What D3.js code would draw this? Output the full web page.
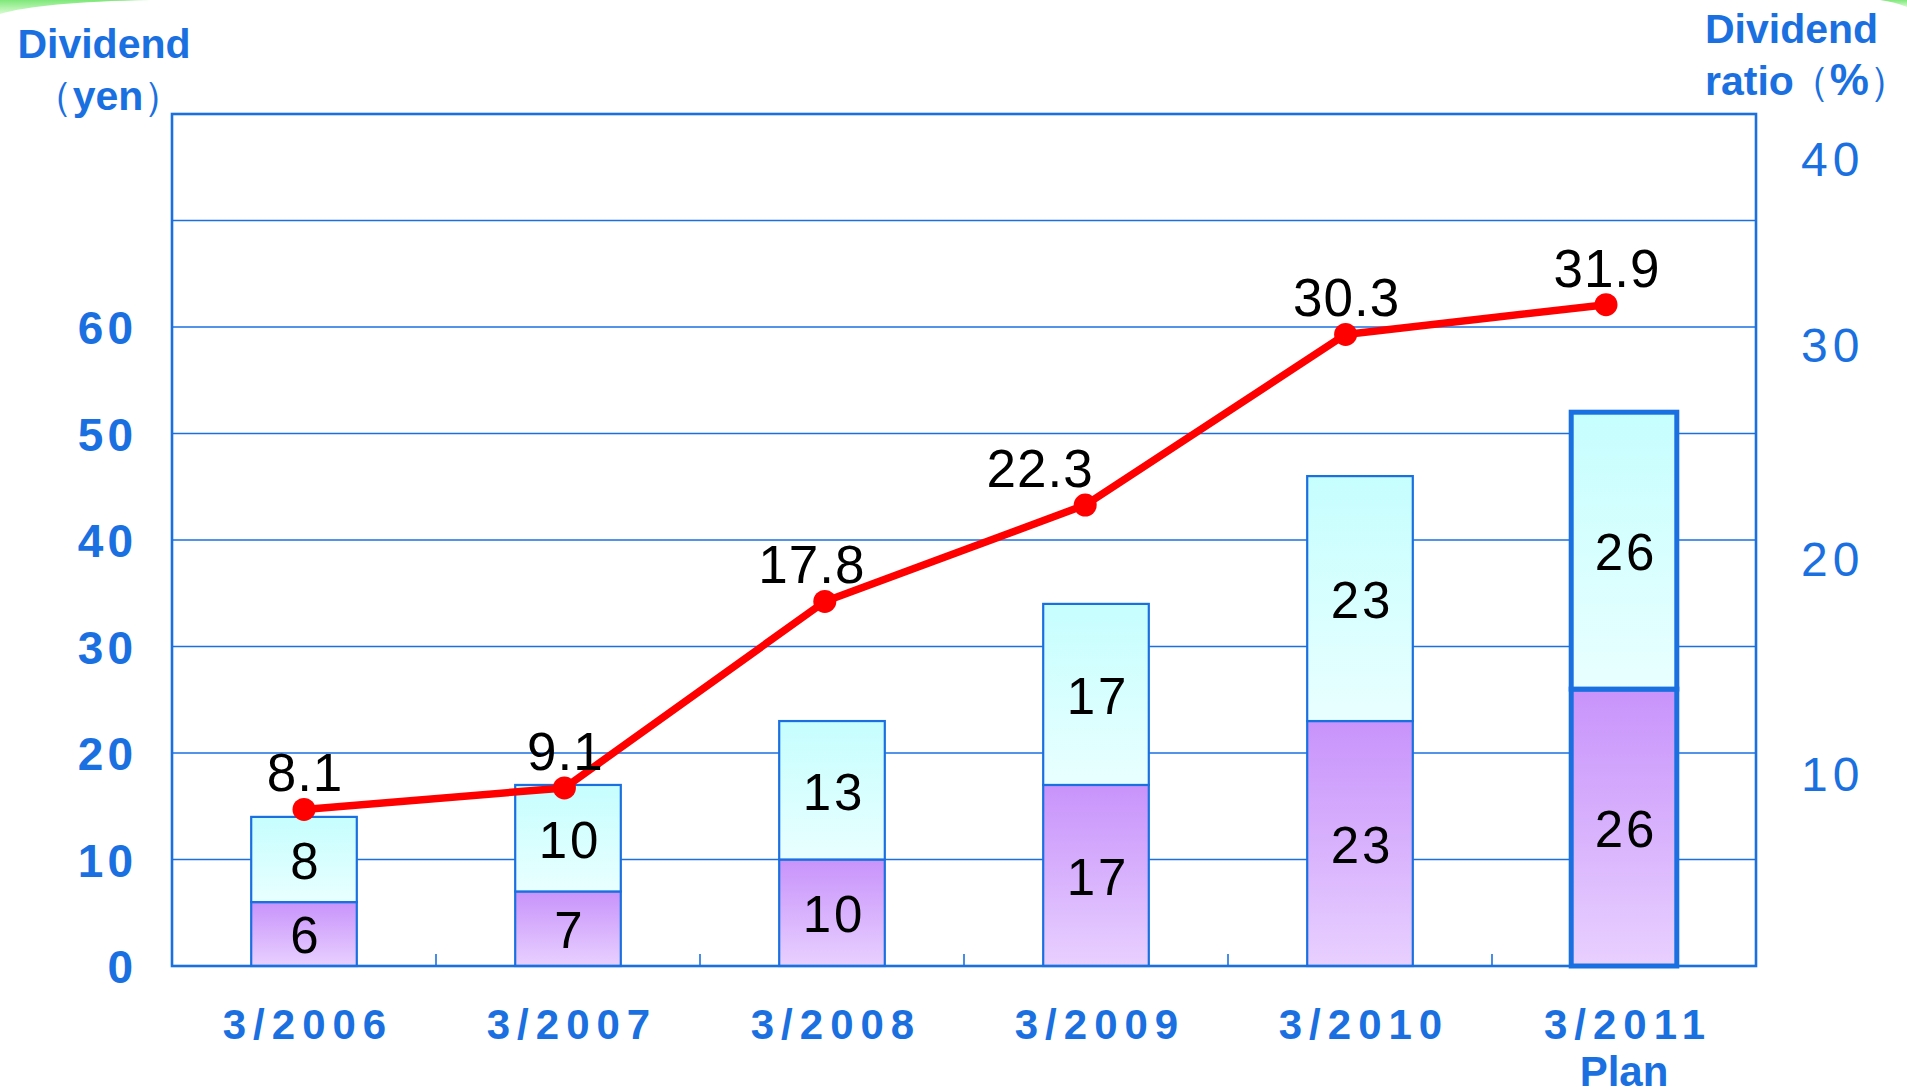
<!DOCTYPE html>
<html>
<head>
<meta charset="utf-8">
<script src="https://cdn.jsdelivr.net/npm/d3@7"></script>
<style>
  body { margin: 0; background: #fff; }
  svg { display: block; }
  text { font-family: "Liberation Sans", Arial, sans-serif; }
</style>
</head>
<body>
<svg id="chart" width="1907" height="1089"></svg>
<script>
// values
var periods = ['3/2006', '3/2007', '3/2008', '3/2009', '3/2010', '3/2011'];
var interim = [6, 7, 10, 17, 23, 26];       // lower (purple) part, yen
var yearEnd = [8, 10, 13, 17, 23, 26];      // upper (cyan) part, yen
var payoutRatio = [8.1, 9.1, 17.8, 22.3, 30.3, 31.9];  // %
var leftTicks = [0, 10, 20, 30, 40, 50, 60];
var gridTicks = [10, 20, 30, 40, 50, 60, 70];
var rightTicks = [10, 20, 30, 40];

var blue = '#1a70e0';
var svg = d3.select('#chart');

// plot frame (note: "top" is taken by window.top)
var plotL = 172, plotR = 1756, plotT = 114, plotB = 966;

var x = d3.scaleBand().domain(periods).range([plotL, plotR]).paddingInner(0.6).paddingOuter(0.3);
var xLine = d3.scalePoint().domain(periods).range([304, 1606]);
var y = d3.scaleLinear().domain([0, 80]).range([plotB, plotT]);
// right axis of the overlaid ratio chart
var y2 = d3.scaleLinear().domain([0, 30, 40]).range([983, 340, 154]);

// gradients
var defs = svg.append('defs');
function grad(id, c1, c2) {
  var g = defs.append('linearGradient').attr('id', id)
    .attr('x1', 0).attr('y1', 0).attr('x2', 0).attr('y2', 1);
  g.append('stop').attr('offset', '0%').attr('stop-color', c1);
  g.append('stop').attr('offset', '100%').attr('stop-color', c2);
}
grad('purple', '#c893fb', '#e8d0ff');
grad('cyan', '#c6fefe', '#e9ffff');
grad('green', '#7fe87a', '#d8fbd0');

// decorative green arcs in the corners
svg.append('path').attr('d', 'M0,14 Q40,2 150,0 L0,0 Z').attr('fill', 'url(#green)');
svg.append('path').attr('d', 'M1880,0 Q1895,2 1907,7 L1907,0 Z').attr('fill', 'url(#green)');

// gridlines
svg.append('g').selectAll('line').data(gridTicks).join('line')
  .attr('x1', plotL).attr('x2', plotR)
  .attr('y1', d => y(d)).attr('y2', d => y(d))
  .attr('stroke', blue).attr('stroke-width', 1.6);

// small ticks between categories on the bottom axis
svg.append('g').selectAll('line').data(periods.slice(1)).join('line')
  .attr('x1', d => x(d) - x.step() * x.paddingInner() / 2)
  .attr('x2', d => x(d) - x.step() * x.paddingInner() / 2)
  .attr('y1', plotB).attr('y2', plotB - 12)
  .attr('stroke', blue).attr('stroke-width', 1.6);

// stacked bars
var stacks = periods.map(function(p, i) {
  return { p: p, a: interim[i], b: yearEnd[i], last: i === periods.length - 1 };
});
var bars = svg.append('g');
bars.selectAll('rect.low').data(stacks).join('rect')
  .attr('class', 'low')
  .attr('x', d => x(d.p)).attr('width', x.bandwidth())
  .attr('y', d => y(d.a)).attr('height', d => y(0) - y(d.a))
  .attr('fill', 'url(#purple)')
  .attr('stroke', blue).attr('stroke-width', d => d.last ? 5 : 2.2);
bars.selectAll('rect.high').data(stacks).join('rect')
  .attr('class', 'high')
  .attr('x', d => x(d.p)).attr('width', x.bandwidth())
  .attr('y', d => y(d.a + d.b)).attr('height', d => y(d.a) - y(d.a + d.b))
  .attr('fill', 'url(#cyan)')
  .attr('stroke', blue).attr('stroke-width', d => d.last ? 5 : 2.2);

// bar segment labels
var segLabels = [];
stacks.forEach(function(d) {
  segLabels.push({ p: d.p, v: d.a, mid: d.a / 2 });
  segLabels.push({ p: d.p, v: d.b, mid: d.a + d.b / 2 });
});
svg.append('g').selectAll('text').data(segLabels).join('text')
  .attr('x', d => x(d.p) + x.bandwidth() / 2 + 2)
  .attr('y', d => y(d.mid))
  .attr('dy', '0.38em')
  .attr('text-anchor', 'middle')
  .attr('font-size', 51)
  .attr('letter-spacing', 3)
  .attr('fill', '#000')
  .text(d => d.v);

// frame
svg.append('rect')
  .attr('x', plotL).attr('y', plotT)
  .attr('width', plotR - plotL).attr('height', plotB - plotT)
  .attr('fill', 'none').attr('stroke', blue).attr('stroke-width', 2.6);

// ratio line
var pts = periods.map((p, i) => [xLine(p), y2(payoutRatio[i])]);
svg.append('path')
  .attr('d', d3.line()(pts))
  .attr('fill', 'none').attr('stroke', '#ff0000').attr('stroke-width', 7.5)
  .attr('stroke-linejoin', 'round');
svg.append('g').selectAll('circle').data(pts).join('circle')
  .attr('cx', d => d[0]).attr('cy', d => d[1]).attr('r', 11.5)
  .attr('fill', '#ff0000');

// labels nudged sideways where the line would cross them
var labelNudge = { '3/2008': -14, '3/2009': -46 };
svg.append('g').selectAll('text').data(periods).join('text')
  .attr('x', (p) => xLine(p) + (labelNudge[p] || 0) + 1)
  .attr('y', (p, i) => y2(payoutRatio[i]) - 18)
  .attr('text-anchor', 'middle')
  .attr('font-size', 53)
  .attr('letter-spacing', 1)
  .attr('fill', '#000')
  .text((p, i) => payoutRatio[i].toFixed(1));

// left axis labels
svg.append('g').selectAll('text').data(leftTicks).join('text')
  .attr('x', 137).attr('y', d => y(d)).attr('dy', '0.37em')
  .attr('text-anchor', 'end')
  .attr('font-size', 46).attr('font-weight', 'bold')
  .attr('letter-spacing', 4)
  .attr('fill', blue)
  .text(d => d);

// right axis labels
svg.append('g').selectAll('text').data(rightTicks).join('text')
  .attr('x', 1801).attr('y', d => y2(d)).attr('dy', '0.46em')
  .attr('text-anchor', 'start')
  .attr('font-size', 48)
  .attr('letter-spacing', 5)
  .attr('fill', blue)
  .text(d => d);

// category labels
svg.append('g').selectAll('text').data(periods).join('text')
  .attr('x', d => x(d) + x.bandwidth() / 2 + 4)
  .attr('y', 1039)
  .attr('text-anchor', 'middle')
  .attr('font-size', 42).attr('font-weight', 'bold')
  .attr('letter-spacing', 7)
  .attr('fill', blue)
  .text(d => d);
svg.append('text')
  .attr('x', x(periods[5]) + x.bandwidth() / 2)
  .attr('y', 1086)
  .attr('text-anchor', 'middle')
  .attr('font-size', 42).attr('font-weight', 'bold')
  .attr('fill', blue)
  .text('Plan');

// axis titles
var lt = svg.append('text').attr('fill', blue).attr('font-size', 41).attr('font-weight', 'bold')
  .attr('text-anchor', 'middle');
lt.append('tspan').attr('x', 104).attr('y', 58).text('Dividend');
var lt2 = lt.append('tspan').attr('x', 108).attr('y', 110);
lt2.append('tspan').attr('font-weight', 'normal').text('（');
lt2.append('tspan').text('yen');
lt2.append('tspan').attr('font-weight', 'normal').text('）');

var rt = svg.append('text').attr('fill', blue).attr('font-size', 41).attr('font-weight', 'bold');
rt.append('tspan').attr('x', 1705).attr('y', 43).text('Dividend');
var rt2 = rt.append('tspan').attr('x', 1705).attr('y', 95);
rt2.append('tspan').text('ratio');
rt2.append('tspan').attr('font-weight', 'normal').attr('dx', -5).text('（');
rt2.append('tspan').attr('font-size', 44).text('%');
rt2.append('tspan').attr('font-weight', 'normal').text('）');
</script>
</body>
</html>
